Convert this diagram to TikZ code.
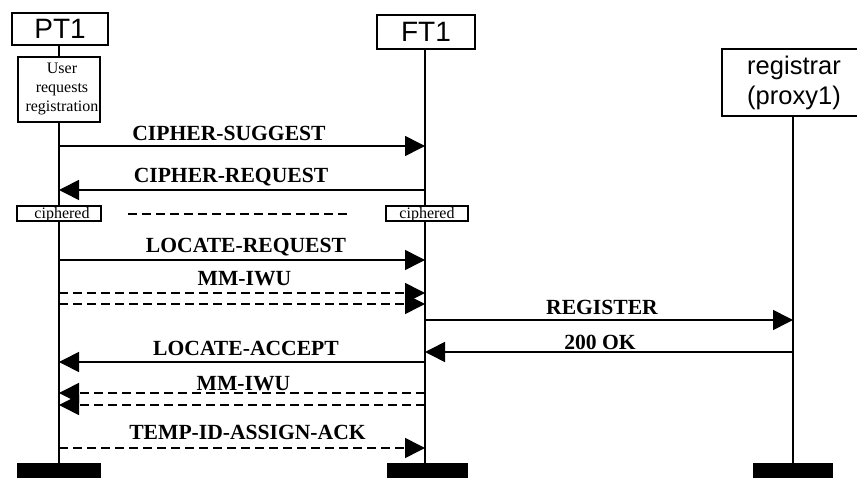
\documentclass[tikz,border=0pt]{standalone}
\usepackage{fontspec}
\setmainfont{Liberation Serif}
\newfontfamily\headfont{Liberation Sans}
\usetikzlibrary{arrows.meta}
\begin{document}
\begin{tikzpicture}[x=1pt,y=-1pt,line width=1.6pt,
  headbox/.style={draw,fill=white,inner sep=0pt,font=\headfont\fontsize{28}{30}\selectfont},
  notebox/.style={draw,fill=white,inner sep=0pt,align=center,font=\fontsize{16}{19}\selectfont},
  endbar/.style={fill=black,draw=none,inner sep=0pt,minimum height=15pt},
  lifeline/.style={line width=1.6pt},
  msg/.style={-{Triangle[length=20pt,width=20pt]}},
  dmsg/.style={msg,dash pattern=on 9pt off 5pt},
  lbl/.style={inner sep=0pt,text height=14.3pt,text depth=0pt,
    font=\bfseries\fontsize{21.6}{24}\selectfont}]
\path[use as bounding box,clip] (0,0) rectangle (857,478);
\fill[white] (0,0) rectangle (857,478);

% entity heads
\node[headbox,minimum width=96pt,minimum height=32pt] (pt1) at (60,29) {PT1};
\node[headbox,minimum width=98pt,minimum height=34pt] (ft1) at (426,32) {FT1};
\node[headbox,minimum width=144pt,minimum height=67pt,align=center,
  font=\headfont\fontsize{25.5}{30}\selectfont] (reg) at (794,82.5) {registrar\\(proxy1)};

% lifeline feet
\node[endbar,minimum width=84pt] (pt1end) at (59,470.5) {};
\node[endbar,minimum width=81pt] (ft1end) at (427.5,470.5) {};
\node[endbar,minimum width=80pt] (regend) at (793,470.5) {};

% lifelines
\coordinate (pt1top) at (59,45);
\coordinate (pt1bot) at (59,463);
\coordinate (ft1top) at (425,49);
\coordinate (ft1bot) at (425,463);
\coordinate (regtop) at (793,116);
\coordinate (regbot) at (793,463);
\draw[lifeline] (pt1top) -- (pt1bot);
\draw[lifeline] (ft1top) -- (ft1bot);
\draw[lifeline] (regtop) -- (regbot);

% notes on the lifelines
\node[notebox,minimum width=82pt,minimum height=65pt,xshift=0pt] (user) at (59,89.5) {};
\node[font=\fontsize{16}{19}\selectfont,align=center,inner sep=0pt] (usertxt) at (62,89) {User\\requests\\registration};
\node[notebox,minimum width=84pt,minimum height=15pt] (ciphP) at (59,213.5) {};
\node[font=\fontsize{16}{19}\selectfont,inner sep=0pt,anchor=base] (ciphPtxt) at (62,219) {ciphered};
\node[notebox,minimum width=82pt,minimum height=15pt] (ciphF) at (427,213.5) {};
\node[font=\fontsize{16}{19}\selectfont,inner sep=0pt,anchor=base] (ciphFtxt) at (427,218.5) {ciphered};
\coordinate (linkA) at (128,214);
\coordinate (linkB) at (347,214);
\draw[dash pattern=on 9pt off 5pt] (linkA) -- (linkB);

% message end points
\foreach \n/\y in {m1/146,m2/190,m3/260,m4a/293,m4b/304,m7/362,m8a/393,m8b/405,m9/448}{
  \coordinate (\n p) at (59,\y);
  \coordinate (\n f) at (425,\y);
}
\foreach \n/\y in {m5/320,m6/352}{
  \coordinate (\n f) at (425,\y);
  \coordinate (\n r) at (793,\y);
}

% messages
\draw[msg] (m1p) -- (m1f);
\node[lbl] (l1) at (229,133) {CIPHER-SUGGEST};
\draw[msg] (m2f) -- (m2p);
\node[lbl] (l2) at (231,175) {CIPHER-REQUEST};
\draw[msg] (m3p) -- (m3f);
\node[lbl] (l3) at (246,245) {LOCATE-REQUEST};
\draw[dmsg] (m4ap) -- (m4af);
\draw[dmsg] (m4bp) -- (m4bf);
\node[lbl] (l4) at (244.5,278) {MM-IWU};
\draw[msg] (m5f) -- (m5r);
\node[lbl] (l5) at (602,307) {REGISTER};
\draw[msg] (m6r) -- (m6f);
\node[lbl] (l6) at (600,342) {200 OK};
\draw[msg] (m7f) -- (m7p);
\node[lbl] (l7) at (246,348) {LOCATE-ACCEPT};
\draw[dmsg] (m8af) -- (m8ap);
\draw[dmsg] (m8bf) -- (m8bp);
\node[lbl] (l8) at (243.5,383) {MM-IWU};
\draw[dmsg] (m9p) -- (m9f);
\node[lbl] (l9) at (247.5,432) {TEMP-ID-ASSIGN-ACK};
\end{tikzpicture}
\end{document}
